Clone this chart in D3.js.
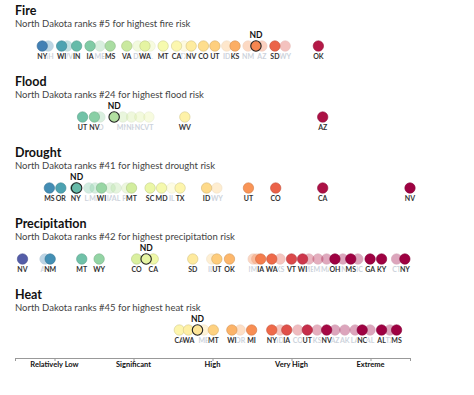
<!DOCTYPE html>
<html>
<head>
<meta charset="utf-8">
<script src="https://cdn.jsdelivr.net/npm/d3@7"></script>
<style>
	body { margin: 0; background: #fff; font-family: Lato, "Open Sans", sans-serif; }
	.lbl { paint-order: stroke; stroke: #fff; stroke-width: 2px; }
</style>
</head>
<body>
<svg id="chart" width="474" height="395"></svg>
<script>
const hazards = ["Fire", "Flood", "Drought", "Precipitation", "Heat"];
const ndRanks = [5, 24, 41, 42, 45];

// [state, risk score, shown] -- shown: 1 highlighted, 0 faded, 2 = North Dakota
const fire = [
	["NH", 8.4, 0], ["WV", 13.2, 0], ["ME", 21.5, 0], ["DE", 31.1, 0], ["IL", 34.2, 0],
	["TX", 42.8, 0], ["ID", 53.6, 0], ["NM", 59.0, 0], ["AZ", 62.5, 0], ["WY", 68.4, 0],
	["NY", 6.9, 1], ["WI", 11.8, 1], ["IN", 15.6, 1], ["IA", 19.0, 1], ["MS", 24.1, 1],
	["VA", 28.3, 1], ["WA", 32.9, 1], ["MT", 37.5, 1], ["CA", 40.9, 1], ["NV", 44.6, 1],
	["CO", 47.7, 1], ["UT", 50.6, 1], ["KS", 55.7, 1], ["SD", 65.8, 1], ["OK", 76.8, 1],
	["ND", 61.0, 2]
];
const flood = [
	["ID", 21.5, 0], ["MN", 27.3, 0], ["NH", 29.5, 0], ["NC", 31.6, 0], ["VT", 33.9, 0],
	["UT", 17.1, 1], ["NV", 20.1, 1], ["WV", 43.0, 1], ["AZ", 77.9, 1],
	["ND", 25.1, 2]
];
const drought = [
	["LA", 18.7, 0], ["MN", 20.3, 0], ["IA", 24.1, 0], ["AL", 25.6, 0], ["PA", 28.3, 0],
	["IL", 39.7, 0], ["WY", 51.1, 0],
	["MS", 8.7, 1], ["OR", 11.6, 1], ["NY", 15.4, 1], ["WI", 21.9, 1], ["MT", 29.5, 1],
	["SC", 34.2, 1], ["MD", 37.1, 1], ["TX", 41.8, 1], ["ID", 48.5, 1], ["UT", 59.1, 1],
	["CO", 66.0, 1], ["CA", 77.9, 1], ["NV", 100, 1],
	["ND", 15.6, 2]
];
const precip = [
	["AZ", 7.6, 0], ["ID", 49.8, 0], ["NE", 60.3, 0], ["MN", 61.2, 0], ["KS", 67.1, 0],
	["ME", 74.4, 0], ["MI", 76.7, 0], ["MA", 78.9, 0], ["IN", 83.0, 0], ["NC", 86.8, 0],
	["CT", 96.6, 0],
	["NV", 1.9, 1], ["NM", 8.9, 1], ["MT", 16.9, 1], ["WY", 21.3, 1], ["CO", 30.8, 1],
	["CA", 35.0, 1], ["SD", 45.0, 1], ["UT", 51.1, 1], ["OK", 54.3, 1], ["IA", 62.2, 1],
	["WA", 65.0, 1], ["VT", 70.0, 1], ["WI", 72.8, 1], ["OH", 81.0, 1], ["MS", 85.0, 1],
	["GA", 89.9, 1], ["KY", 92.8, 1], ["NY", 98.7, 1],
	["ND", 33.2, 2]
];
const heat = [
	["ME", 47.8, 0], ["OR", 57.0, 0], ["ID", 67.1, 0], ["CO", 71.6, 0], ["KS", 76.5, 0],
	["AZ", 81.0, 0], ["AK", 83.5, 0], ["LA", 86.1, 0], ["AL", 89.9, 0], ["TX", 94.9, 0],
	["CA", 41.6, 1], ["WA", 43.9, 1], ["MT", 50.2, 1], ["WI", 54.9, 1], ["MI", 59.9, 1],
	["NY", 65.0, 1], ["IA", 68.8, 1], ["UT", 74.0, 1], ["NV", 78.9, 1], ["NC", 87.9, 1],
	["AL", 92.8, 1], ["MS", 96.6, 1],
	["ND", 46.2, 2]
];
const rows = [fire, flood, drought, precip, heat];

const axisTicks = [0, 10, 30, 50, 70, 90, 100];
const bandNames = ["Relatively Low", "Significant", "High", "Very High", "Extreme"];
const bandCenters = [10, 30, 50, 70, 90];

let svg = d3.select('#chart'),
	rowStep = 71,
	r = 5.2;

let x = d3.scaleLinear()
	.domain([0, 100])
	.range([15, 410]);
let color = d3.scaleSequential(d3.interpolateSpectral)
	.domain([80, 0])
	.clamp(true);

hazards.forEach((name, i) => {
	let y0 = 15 + rowStep * i,
		g = svg.append('g').attr('transform', `translate(0, ${y0})`),
		data = rows[i].map(d => ({st: d[0], v: d[1], on: d[2]}));

	g.append('text')
		.attr('x', 15)
		.attr('y', 0)
		.attr('font-size', 12.5)
		.attr('font-weight', 700)
		.attr('fill', '#111')
		.text(name);

	g.append('text')
		.attr('x', 15)
		.attr('y', 12)
		.attr('font-size', 9.5)
		.attr('fill', '#444')
		.text(`North Dakota ranks #${ndRanks[i]} for highest ${name.toLowerCase()} risk`);

	// faded ones first, then highlighted, then ND on top
	[0, 1, 2].forEach(layer => {
		let sub = data.filter(d => d.on == layer);

		g.selectAll(`.dot${layer}`)
			.data(sub).enter()
			.append('circle')
			.attr('class', `dot${layer}`)
			.attr('cx', d => x(d.v))
			.attr('cy', 31)
			.attr('r', r)
			.attr('fill', d => color(d.v))
			.attr('stroke', d => layer == 2 ? '#222' : d3.color(color(d.v)).darker(0.5))
			.attr('stroke-width', layer == 2 ? 1.1 : 0.6)
			.attr('opacity', layer == 0 ? 0.35 : 1);

		if (layer == 2) return;
		g.selectAll(`.lbl${layer}`)
			.data(sub).enter()
			.append('text')
			.attr('class', `lbl lbl${layer}`)
			.attr('x', d => x(d.v))
			.attr('y', 44)
			.attr('text-anchor', 'middle')
			.attr('font-size', 7)
			.attr('font-weight', 700)
			.attr('fill', layer == 0 ? '#cdd3dc' : '#333')
			.text(d => d.st);
	});

	let nd = data.find(d => d.on == 2);
	g.append('text')
		.attr('x', x(nd.v))
		.attr('y', 23)
		.attr('text-anchor', 'middle')
		.attr('font-size', 8.5)
		.attr('font-weight', 700)
		.attr('fill', '#111')
		.text('ND');
});

// rating axis
let axis_g = svg.append('g')
	.attr('transform', 'translate(0, 358)')
	.call(d3.axisBottom(x)
		.tickValues(axisTicks)
		.tickSize(3)
		.tickSizeOuter(3)
		.tickFormat(''));
axis_g.selectAll('path, line').attr('stroke', '#999');

svg.selectAll('.band_text')
	.data(bandNames).enter()
	.append('text')
	.attr('class', 'band_text')
	.attr('x', (d, i) => x(bandCenters[i]))
	.attr('y', 367)
	.attr('text-anchor', 'middle')
	.attr('font-size', 7.5)
	.attr('font-weight', 700)
	.attr('fill', '#111')
	.text(d => d);
</script>
</body>
</html>
